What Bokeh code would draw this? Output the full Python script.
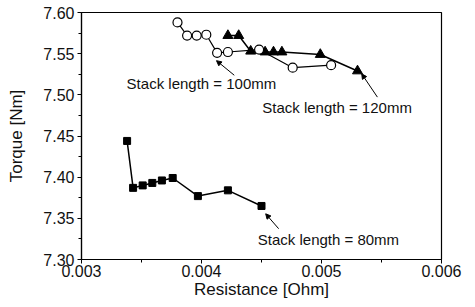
from bokeh.plotting import figure
from bokeh.models import Label, Arrow, NormalHead, Range1d, FixedTicker, NumeralTickFormatter
from bokeh.embed import file_html
from bokeh.resources import INLINE

# Stack length = 100mm (open circles)
r100 = [0.00380, 0.00388, 0.00396, 0.00404, 0.00413, 0.00422, 0.00448, 0.00476, 0.00508]
t100 = [7.588, 7.572, 7.572, 7.573, 7.551, 7.552, 7.555, 7.533, 7.536]
# Stack length = 120mm (filled triangles)
r120 = [0.00422, 0.00431, 0.00441, 0.00453, 0.00460, 0.00467, 0.00499, 0.00530]
t120 = [7.572, 7.572, 7.553, 7.552, 7.552, 7.552, 7.549, 7.529]
# Stack length = 80mm (filled squares)
r80 = [0.00338, 0.00343, 0.00351, 0.00359, 0.00367, 0.00376, 0.00397, 0.00422, 0.00450]
t80 = [7.444, 7.387, 7.390, 7.393, 7.396, 7.399, 7.377, 7.384, 7.365]

x_ticks = [0.003, 0.004, 0.005, 0.006]
y_ticks = [7.30, 7.35, 7.40, 7.45, 7.50, 7.55, 7.60]

FONT = "Liberation Sans"

p = figure(width=466, height=301, output_backend="svg", toolbar_location=None,
           x_range=Range1d(0.003, 0.006), y_range=Range1d(7.30, 7.60),
           min_border_left=81, min_border_right=25, min_border_top=12, min_border_bottom=40)
p.background_fill_color = "white"
p.border_fill_color = "white"
p.outline_line_color = "black"
p.outline_line_width = 1.2
p.grid.visible = False

p.xaxis.ticker = FixedTicker(ticks=x_ticks, minor_ticks=[0.0035, 0.0045, 0.0055])
p.yaxis.ticker = FixedTicker(ticks=y_ticks, minor_ticks=[7.325, 7.375, 7.425, 7.475, 7.525, 7.575])
p.xaxis.formatter = NumeralTickFormatter(format="0.000")
p.yaxis.formatter = NumeralTickFormatter(format="0.00")

for ax in (p.xaxis[0], p.yaxis[0]):
    ax.axis_line_color = "black"
    ax.axis_line_width = 1.2
    ax.major_tick_line_color = "black"
    ax.minor_tick_line_color = "black"
    ax.major_tick_out = 4
    ax.major_tick_in = 0
    ax.minor_tick_out = 3
    ax.minor_tick_in = 0
    ax.major_label_text_font = FONT
    ax.major_label_text_font_size = "16px"
    ax.major_label_text_color = "#111111"
    ax.axis_label_text_font = FONT
    ax.axis_label_text_font_size = "17px"
    ax.axis_label_text_font_style = "normal"
    ax.axis_label_text_color = "#111111"

p.xaxis.major_label_standoff = 1
p.yaxis.major_label_standoff = 3
p.xaxis.axis_label = "Resistance [Ohm]"
p.yaxis.axis_label = "Torque [Nm]"
p.xaxis.axis_label_standoff = 0
p.yaxis.axis_label_standoff = 14

# series
p.line(r80, t80, line_color="black", line_width=1.5)
p.scatter(r80, t80, marker="square", size=7, fill_color="black", line_color="black")

p.line(r120, t120, line_color="black", line_width=1.5)
p.scatter(r120, t120, marker="triangle", size=10, fill_color="black", line_color="black")

p.line(r100, t100, line_color="black", line_width=1.2)
p.scatter(r100, t100, marker="circle", size=9, fill_color="white", line_color="black", line_width=1.2)

# annotations
def note(x, y, text):
    p.add_layout(Label(x=x, y=y, text=text, text_font=FONT, text_font_size="15px",
                       text_color="#111111", text_baseline="middle", text_align="left"))

def arrow(x0, y0, x1, y1):
    p.add_layout(Arrow(x_start=x0, y_start=y0, x_end=x1, y_end=y1, line_width=1,
                       line_color="black",
                       end=NormalHead(size=5, fill_color="black", line_color="black")))

note(0.003376, 7.514, "Stack length = 100mm")
arrow(0.004273, 7.5238, 0.004125, 7.5415)
note(0.004506, 7.485, "Stack length = 120mm")
arrow(0.005466, 7.4972, 0.005335, 7.5255)
note(0.004469, 7.324, "Stack length = 80mm")
arrow(0.004643, 7.3374, 0.004535, 7.3555)

open("out.html", "w").write(file_html(p, INLINE))
